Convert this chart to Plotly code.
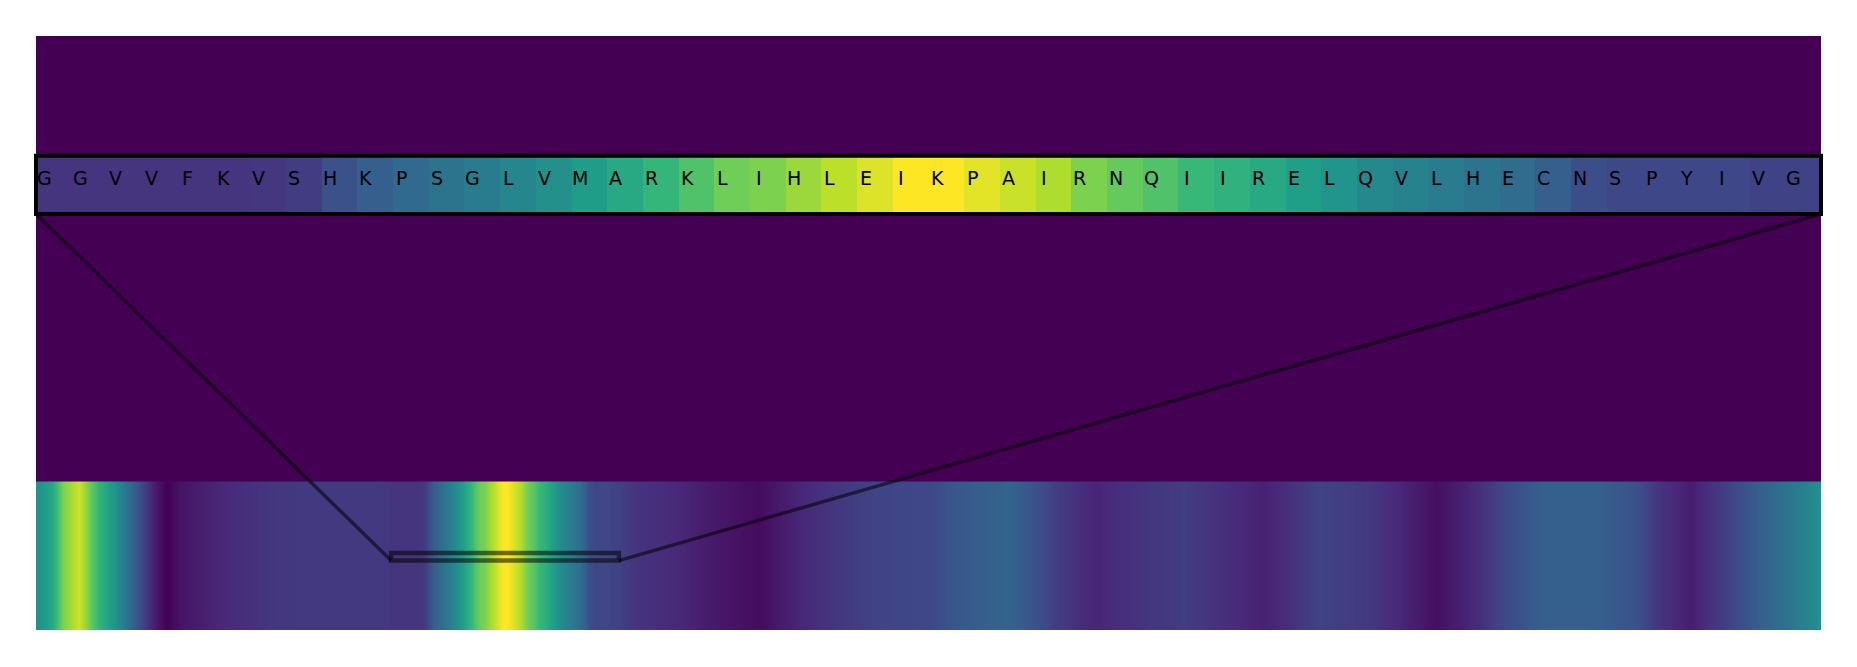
import plotly.graph_objects as go

# ---------------- data ----------------
seq_length = 392
window_start = 78
window_residues = ["G", "G", "V", "V", "F", "K", "V", "S", "H", "K",
                   "P", "S", "G", "L", "V", "M", "A", "R", "K", "L",
                   "I", "H", "L", "E", "I", "K", "P", "A", "I", "R",
                   "N", "Q", "I", "I", "R", "E", "L", "Q", "V", "L",
                   "H", "E", "C", "N", "S", "P", "Y", "I", "V", "G"]
window_values = [0.15, 0.15, 0.15, 0.15, 0.15, 0.15, 0.16, 0.18, 0.25, 0.30,
                 0.34, 0.38, 0.42, 0.46, 0.50, 0.55, 0.60, 0.66, 0.72, 0.78,
                 0.80, 0.85, 0.90, 0.95, 1.00, 1.00, 0.96, 0.92, 0.88, 0.80,
                 0.76, 0.72, 0.67, 0.64, 0.60, 0.56, 0.52, 0.47, 0.45, 0.42,
                 0.38, 0.35, 0.30, 0.24, 0.22, 0.22, 0.22, 0.22, 0.20, 0.20]

# profile of the full sequence outside the window (residue index, value)
profile_pos = [0, 3, 5.5, 9, 11.5, 14, 17, 20, 23, 25, 28, 31, 35, 42, 49, 58, 68, 75,
               131, 139, 146, 153, 158, 164, 172, 183, 196, 201, 213, 219, 224, 232,
               237, 245, 252, 259, 269, 274, 281, 292, 300, 307, 314, 322, 330, 343,
               351, 356, 363, 369, 376, 384, 391]
profile_val = [0.50, 0.60, 0.80, 0.93, 0.75, 0.62, 0.50, 0.35, 0.20, 0.10, 0.00, 0.05,
               0.08, 0.12, 0.15, 0.17, 0.17, 0.17,
               0.15, 0.12, 0.08, 0.05, 0.03, 0.08, 0.14, 0.20, 0.22, 0.27, 0.32, 0.25,
               0.18, 0.10, 0.13, 0.16, 0.18, 0.14, 0.09, 0.13, 0.20, 0.17, 0.10, 0.04,
               0.10, 0.22, 0.30, 0.30, 0.25, 0.15, 0.08, 0.17, 0.27, 0.38, 0.50]

# ---------------- build ----------------
pts = list(zip(profile_pos, profile_val))
pts += [(window_start + i, v) for i, v in enumerate(window_values)]
pts.sort()
band_x = [p for p, _ in pts]
band_z = [v for _, v in pts]

W, H = 1857, 667
ML, MR, MT, MB = 35.5, 35.5, 35.5, 37
plot_h = H - MT - MB
Y_TOP = 4.0  # main y-range; band occupies [0, 1]

def dom(px_top, px_bottom):
    return [(H - MB - px_bottom) / plot_h, (H - MB - px_top) / plot_h]

inset_dom = dom(155.3, 213.7)

fig = go.Figure()

fig.add_trace(go.Heatmap(
    x=band_x, y=[0.25, 0.75], z=[band_z, band_z],
    colorscale="Viridis", zmin=0, zmax=1, zsmooth="best", showscale=False,
    hoverinfo="skip", xaxis="x", yaxis="y"))

n_win = len(window_values)
fig.add_trace(go.Heatmap(
    x=list(range(n_win)), y=[0], z=[window_values],
    colorscale="Viridis", zmin=0, zmax=1, showscale=False,
    hoverinfo="skip", xaxis="x2", yaxis="y2"))

annotations = []
for i, r in enumerate(window_residues):
    annotations.append(dict(
        x=i - 0.262, y=(213.7 - 178) / (213.7 - 155.3), xref="x2", yref="y2 domain",
        text=r, showarrow=False, xanchor="center", yanchor="middle",
        font=dict(family="DejaVu Sans", size=19, color="black")))

x0 = window_start - 0.5
x1 = window_start + n_win - 0.5
box_bottom = (H - MB - 560.5) / plot_h * Y_TOP
box_top = (H - MB - 553) / plot_h * Y_TOP
inset_bottom_y = inset_dom[0] * Y_TOP

shapes = [
    dict(type="rect", xref="x2 domain", yref="y2 domain", x0=0, x1=1, y0=0, y1=1,
         line=dict(color="black", width=4)),
    dict(type="rect", xref="x", yref="y", x0=x0, x1=x1, y0=box_bottom, y1=box_top,
         line=dict(color="rgba(0,0,0,0.55)", width=4.5)),
    dict(type="line", xref="x", yref="y", x0=-0.5, y0=inset_bottom_y, x1=x0, y1=box_bottom,
         line=dict(color="rgba(0,0,0,0.55)", width=3.5)),
    dict(type="line", xref="x", yref="y", x0=seq_length - 0.5, y0=inset_bottom_y,
         x1=x1, y1=box_bottom, line=dict(color="rgba(0,0,0,0.55)", width=3.5)),
]

fig.update_layout(
    width=W, height=H,
    margin=dict(l=ML, r=MR, t=MT, b=MB, pad=0),
    paper_bgcolor="white", plot_bgcolor="#440154",
    showlegend=False,
    xaxis=dict(range=[-0.5, seq_length - 0.5], visible=False, domain=[0, 1],
               fixedrange=True),
    yaxis=dict(range=[0, Y_TOP], visible=False, domain=[0, 1], fixedrange=True),
    xaxis2=dict(range=[-0.5, n_win - 0.5], visible=False, domain=[0, 1],
                anchor="y2", fixedrange=True),
    yaxis2=dict(range=[-0.5, 0.5], visible=False, domain=inset_dom, anchor="x2",
                fixedrange=True),
    annotations=annotations,
    shapes=shapes,
)

fig.write_html("out.html")
